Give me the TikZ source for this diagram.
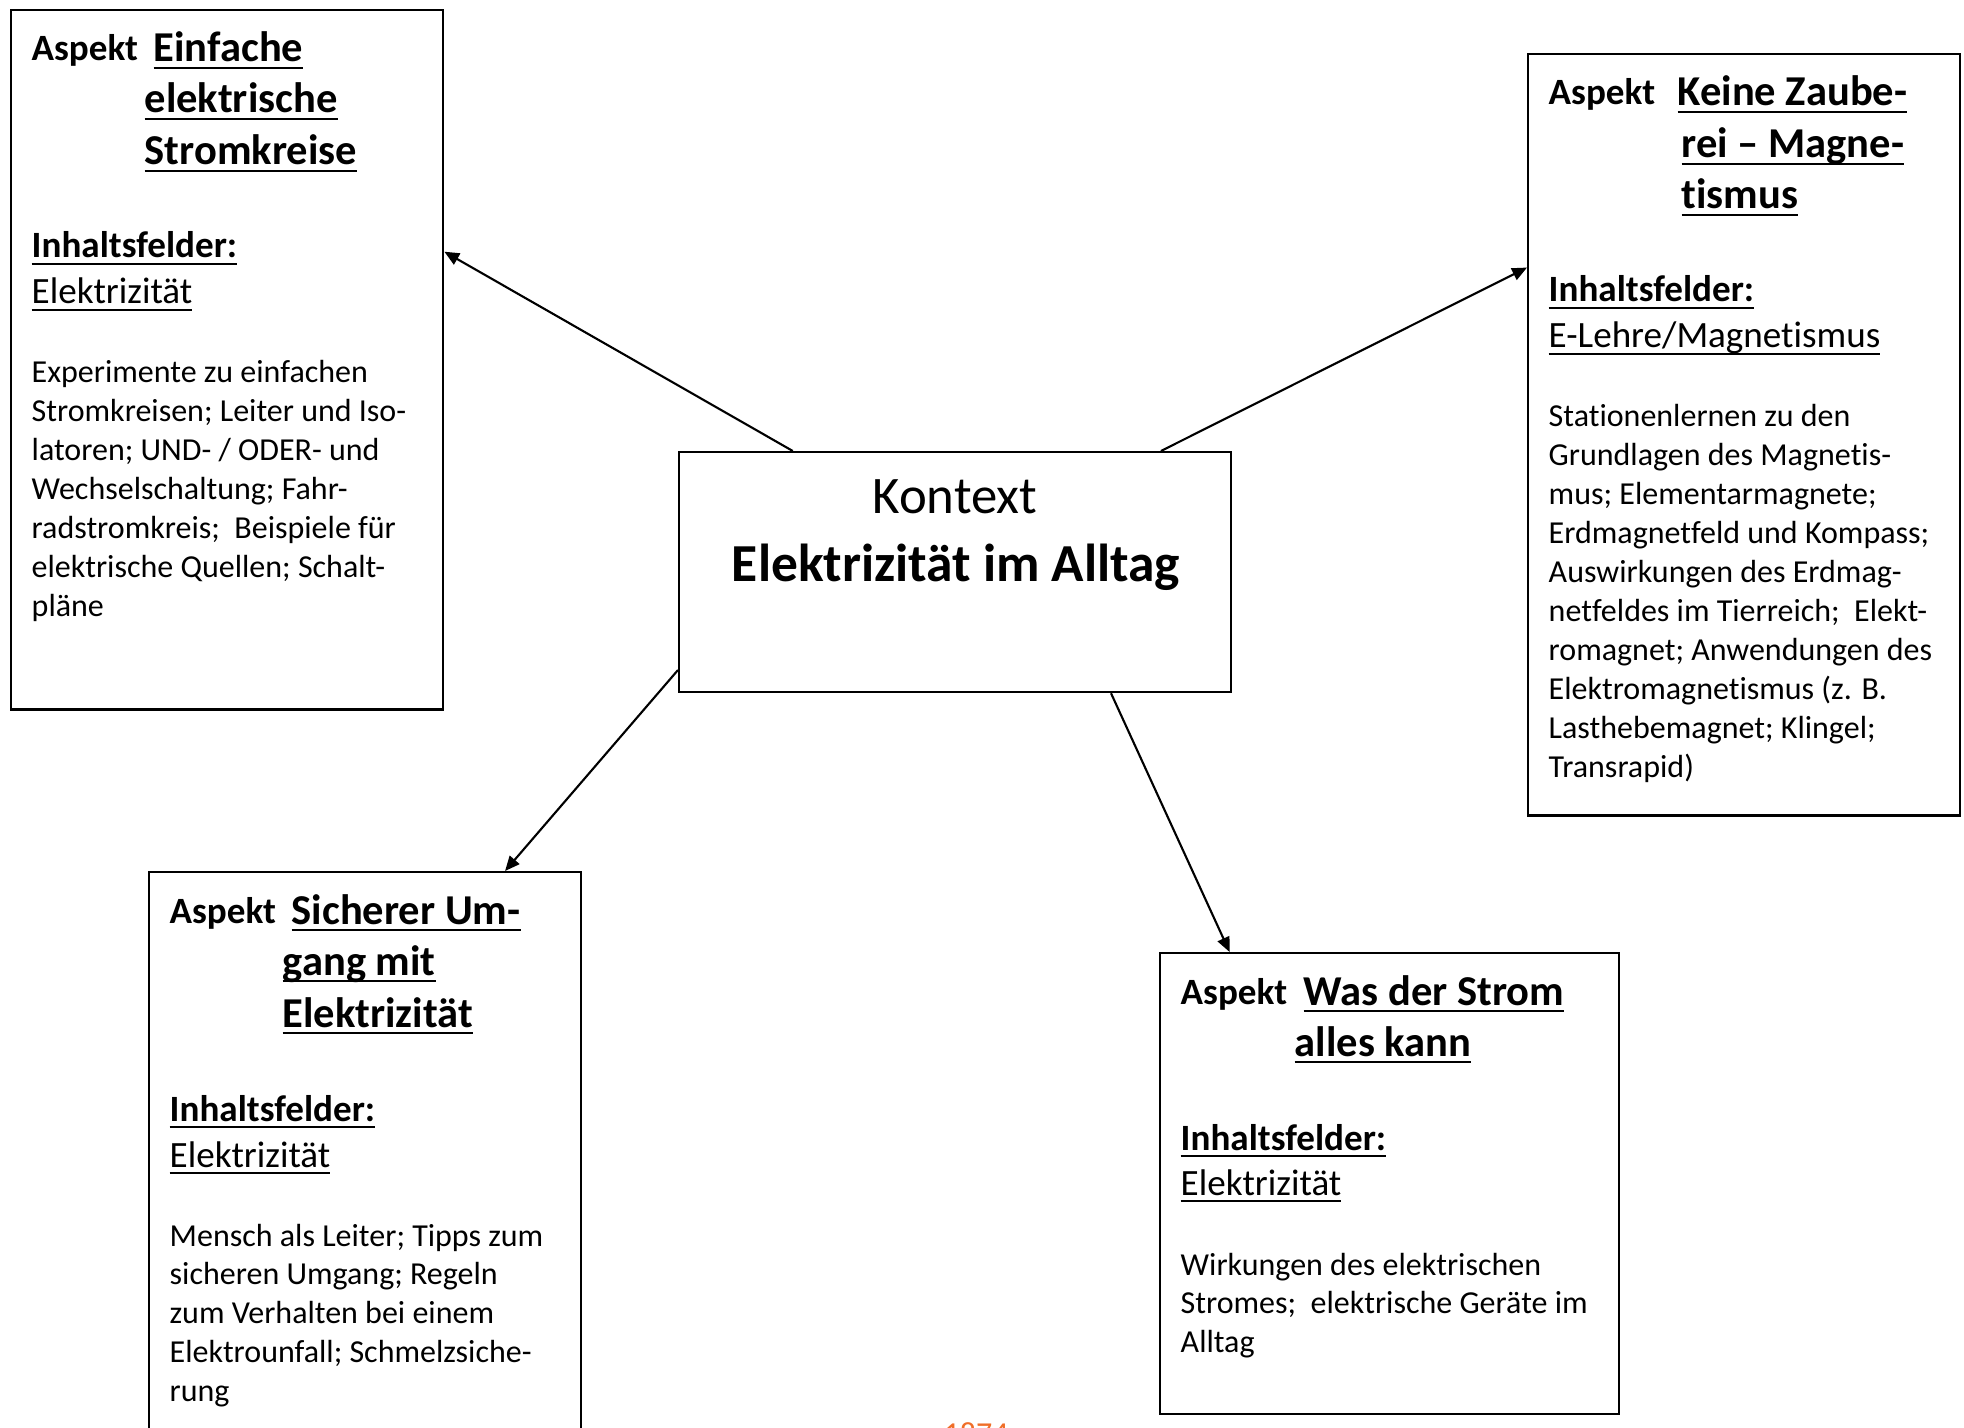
\documentclass[tikz,border=0pt]{standalone}
\usepackage{fontspec}
\setmainfont{Carlito}[Ligatures={TeX,NoCommon}]
\usepackage{xcolor}
\usepackage{tikz}
\usetikzlibrary{arrows.meta,calc}

\definecolor{pgnum}{RGB}{240,110,40}
% underline at a fixed depth, like the word processor does
\newcommand{\ulin}[1]{\setbox0=\hbox{#1}\rlap{\rule[-2pt]{\wd0}{0.6pt}}\box0}

\begin{document}
\begin{tikzpicture}[x=0.01cm, y=-0.01cm,
      box/.style={draw, line width=0.6pt, inner sep=0pt, anchor=north west},
      arr/.style={-{Triangle[length=4.2pt, width=3.6pt]}, line width=0.6pt},
      asp/.style={font=\fontsize{10.55}{12.9}\selectfont\bfseries, anchor=base west, inner sep=0pt},
      ttl/.style={font=\fontsize{12.1}{14.8}\selectfont\bfseries, anchor=base west, inner sep=0pt},
      fld/.style={font=\fontsize{10.55}{12.9}\selectfont, anchor=base west, inner sep=0pt},
      txt/.style={font=\fontsize{9.1}{11.1}\selectfont, anchor=base west, inner sep=0pt}]
    \useasboundingbox (0,0) rectangle (1964,1428);
    % kontext
    \node[box, minimum width=5.52cm, minimum height=2.4cm] (ctx) at (678,451) {};
    \node[font=\fontsize{15}{18}\selectfont, anchor=base, inner sep=0pt] (ctx-k) at (955,514) {Kontext};
    \node[font=\fontsize{15.2}{18}\selectfont\bfseries, anchor=base, inner sep=0pt] (ctx-t) at (956,581) {Elektrizität im Alltag};
    % aspekt oben links
    \node[box, minimum width=4.32cm, minimum height=6.99cm] (einfach) at (10,9) {};
    \node[asp] (einfach-a) at (31,61) {Aspekt};
    \foreach \x/\y/\lbl [count=\i] in {153/62/Einfache, 144/113/elektrische, 144/165/Stromkreise}
      \node[ttl] (einfach-t\i) at (\x,\y) {\ulin{\lbl}};
    \node[asp] (einfach-f) at (31,258) {\ulin{Inhaltsfelder:}};
    \node[fld] (einfach-e) at (31,304) {\ulin{Elektrizität}};
    \foreach \lbl [count=\i from 0] in {Experimente zu einfachen, Stromkreisen; Leiter und Iso-,
        latoren; UND- / ODER- und, Wechselschaltung; Fahr-, radstromkreis;\ \ Beispiele für,
        elektrische Quellen; Schalt-, pläne}
      \node[txt] (einfach-l\i) at (31,{383+38.9*\i}) {\lbl};
    % aspekt oben rechts
    \node[box, minimum width=4.32cm, minimum height=7.61cm] (magnet) at (1527,53) {};
    \node[asp] (magnet-a) at (1548,105) {Aspekt};
    \foreach \x/\y/\lbl [count=\i] in {1677/106/Keine Zaube-, 1681/158/rei -- Magne-, 1681/209/tismus}
      \node[ttl] (magnet-t\i) at (\x,\y) {\ulin{\lbl}};
    \node[asp] (magnet-f) at (1548,302) {\ulin{Inhaltsfelder:}};
    \node[fld] (magnet-e) at (1548,348) {\ulin{E-Lehre/Magnetismus}};
    \foreach \lbl [count=\i from 0] in {Stationenlernen zu den, Grundlagen des Magnetis-,
        mus; Elementarmagnete;, Erdmagnetfeld und Kompass;, Auswirkungen des Erdmag-,
        netfeldes im Tierreich;\ \ Elekt-, romagnet; Anwendungen des,
        Elektromagnetismus (z. B., Lasthebemagnet; Klingel;, Transrapid)}
      \node[txt] (magnet-l\i) at (1548,{427+38.9*\i}) {\lbl};
    % aspekt unten links
    \node[box, minimum width=4.32cm, minimum height=5.8cm] (sicher) at (148,871) {};
    \node[asp] (sicher-a) at (169,923) {Aspekt};
    \foreach \x/\y/\lbl [count=\i] in {291/924/Sicherer Um-, 282/975/gang mit, 282/1027/Elektrizität}
      \node[ttl] (sicher-t\i) at (\x,\y) {\ulin{\lbl}};
    \node[asp] (sicher-f) at (169,1121) {\ulin{Inhaltsfelder:}};
    \node[fld] (sicher-e) at (169,1167) {\ulin{Elektrizität}};
    \foreach \lbl [count=\i from 0] in {Mensch als Leiter; Tipps zum, sicheren Umgang; Regeln,
        zum Verhalten bei einem, Elektrounfall; Schmelzsiche-, rung}
      \node[txt] (sicher-l\i) at (169,{1246+38.9*\i}) {\lbl};
    % aspekt unten rechts
    \node[box, minimum width=4.59cm, minimum height=4.61cm] (strom) at (1159,952) {};
    \node[asp] (strom-a) at (1180,1004) {Aspekt};
    \foreach \x/\y/\lbl [count=\i] in {1303/1005/Was der Strom, 1294/1056/alles kann}
      \node[ttl] (strom-t\i) at (\x,\y) {\ulin{\lbl}};
    \node[asp] (strom-f) at (1180,1150) {\ulin{Inhaltsfelder:}};
    \node[fld] (strom-e) at (1180,1195) {\ulin{Elektrizität}};
    \foreach \lbl [count=\i from 0] in {Wirkungen des elektrischen,
        Stromes;\ \ elektrische Geräte im, Alltag}
      \node[txt] (strom-l\i) at (1180,{1275+38.9*\i}) {\lbl};
    % seitenzahl, unten abgeschnitten
    \node[txt, text=pgnum] (seite) at (943,1444) {1874};
    % pfeile
    \draw[arr] ($(ctx.north west)!0.207!(ctx.north east)$) -- ($(einfach.north east)!0.346!(einfach.south east)$);
    \draw[arr] ($(ctx.north west)!0.871!(ctx.north east)$) -- ($(magnet.north west)!0.281!(magnet.south west)$);
    \draw[arr] ($(ctx.north west)!0.904!(ctx.south west)$) -- ($(sicher.north west)!0.822!(sicher.north east)$);
    \draw[arr] ($(ctx.south west)!0.781!(ctx.south east)$) -- ($(strom.north west)!0.153!(strom.north east)$);
  \end{tikzpicture}
\end{document}
